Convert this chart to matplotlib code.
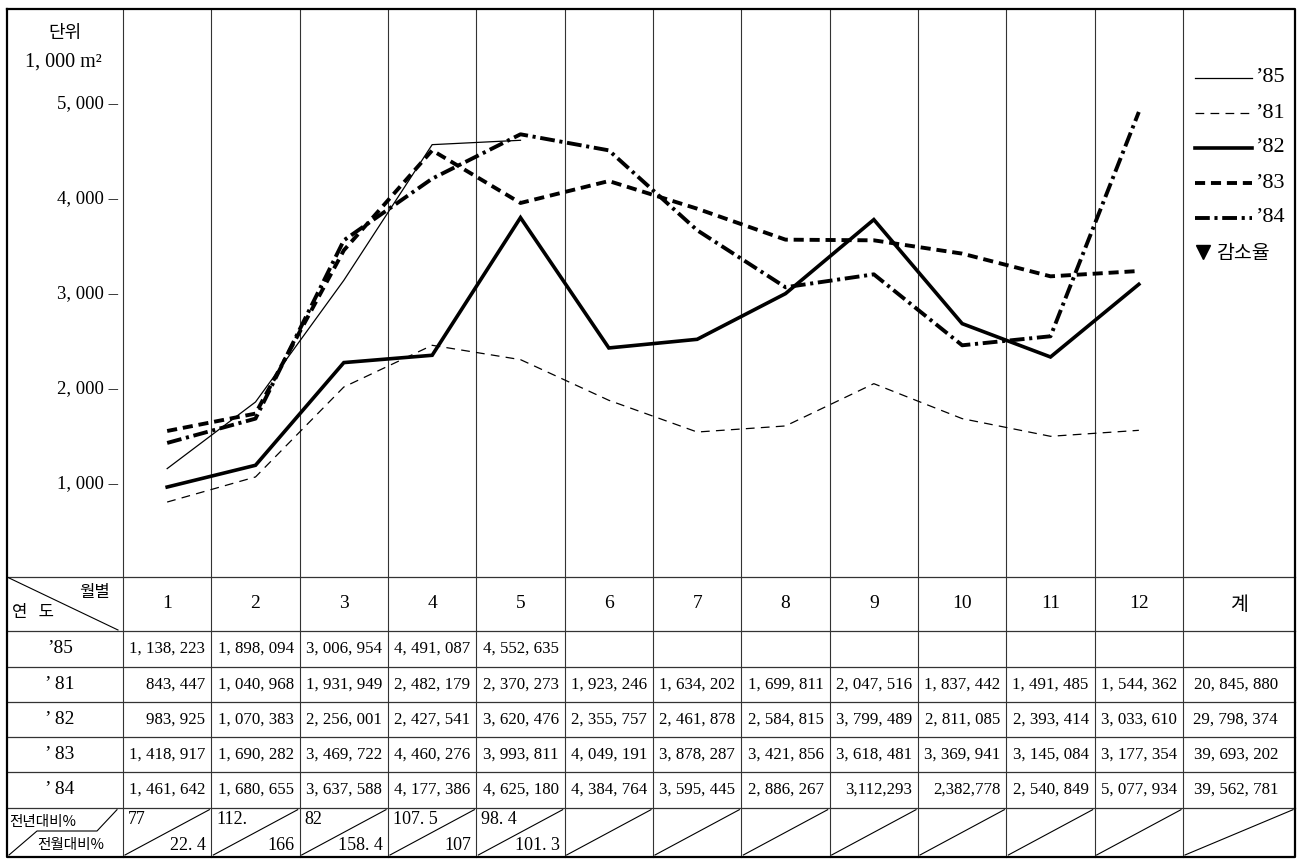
import numpy as np
import matplotlib
matplotlib.use('Agg')
import matplotlib.pyplot as plt
from matplotlib.lines import Line2D

# month values as drawn on the chart (unit 1,000 m2)
months = np.arange(1, 13)
s85 = [1141, 1842, 3123, 4551, 4597]
s81 = [789, 1053, 2000, 2439, 2288, 1860, 1526, 1590, 2035, 1667, 1481, 1544]
s82 = [947, 1176, 2257, 2334, 3783, 2411, 2502, 2983, 3762, 2667, 2316, 3081]
s83 = [1537, 1720, 3439, 4491, 3937, 4168, 3877, 3551, 3544, 3404, 3165, 3221]
s84 = [1411, 1667, 3544, 4193, 4660, 4491, 3650, 3050, 3186, 2439, 2534, 4895]

yticks = [1000, 2000, 3000, 4000, 5000]
ytick_labels = ['1, 000 –', '2, 000 –', '3, 000 –', '4, 000 –', '5, 000 –']

# table text
col_heads = ['1', '2', '3', '4', '5', '6', '7', '8', '9', '10', '11', '12', '계']
row_heads = ["’85", "’ 81", "’ 82", "’ 83", "’ 84"]
t85 = ['1, 138, 223', '1, 898, 094', '3, 006, 954', '4, 491, 087', '4, 552, 635']
t81 = ['843, 447', '1, 040, 968', '1, 931, 949', '2, 482, 179', '2, 370, 273', '1, 923, 246',
       '1, 634, 202', '1, 699, 811', '2, 047, 516', '1, 837, 442', '1, 491, 485', '1, 544, 362',
       '20, 845, 880']
t82 = ['983, 925', '1, 070, 383', '2, 256, 001', '2, 427, 541', '3, 620, 476', '2, 355, 757',
       '2, 461, 878', '2, 584, 815', '3, 799, 489', '2, 811, 085', '2, 393, 414', '3, 033, 610',
       '29, 798, 374']
t83 = ['1, 418, 917', '1, 690, 282', '3, 469, 722', '4, 460, 276', '3, 993, 811', '4, 049, 191',
       '3, 878, 287', '3, 421, 856', '3, 618, 481', '3, 369, 941', '3, 145, 084', '3, 177, 354',
       '39, 693, 202']
t84 = ['1, 461, 642', '1, 680, 655', '3, 637, 588', '4, 177, 386', '4, 625, 180', '4, 384, 764',
       '3, 595, 445', '2, 886, 267', '3,112,293', '2,382,778', '2, 540, 849', '5, 077, 934',
       '39, 562, 781']
pct_year = ['77', '112.', '82', '107. 5', '98. 4']
pct_month = ['22. 4', '166', '158. 4', '107', '101. 3']

W, H = 1300, 859
NUM = ['Liberation Serif', 'Noto Sans CJK KR']
KOR = ['Noto Sans CJK KR', 'Liberation Serif']

fig = plt.figure(figsize=(13, 8.59), dpi=100)

# background layer in pixel coordinates for frame + table
bg = fig.add_axes([0, 0, 1, 1])
bg.set_xlim(0, W)
bg.set_ylim(H, 0)
bg.axis('off')

top, base, bottom = 9, 577, 857
left, right = 7, 1295
x0, cw = 123, 1060 / 12
edges = [left] + [x0 + cw * i for i in range(13)] + [right]
rows_y = [base, 631, 666.7, 701.7, 736.7, 771.7, 807.7, bottom]

lc = '#333333'
for xe in edges[1:-1]:
    bg.plot([xe, xe], [top, bottom], color=lc, lw=0.8)
for ye in rows_y[:-1]:
    bg.plot([left, right], [ye, ye], color=lc, lw=0.9)
bg.plot([left, right, right, left, left], [top, top, bottom, bottom, top], color='black', lw=1.6)

# header row
bg.plot([left, 118], [base, 630], color='black', lw=0.8)
bg.text(110, 593, '월별', family=KOR, fontsize=12, ha='right', va='center')
bg.text(12, 613, '연   도', family=KOR, fontsize=12, ha='left', va='center')
for i, h in enumerate(col_heads):
    cx = (edges[i + 1] + edges[i + 2]) / 2
    bg.text(cx, (rows_y[0] + rows_y[1]) / 2, h, family=NUM if h != '계' else KOR,
            fontsize=14, ha='center', va='center')

# value rows
table_rows = [t85, t81, t82, t83, t84]
for r, (lab, vals) in enumerate(zip(row_heads, table_rows)):
    cy = (rows_y[r + 1] + rows_y[r + 2]) / 2
    bg.text(60, cy, lab, family=NUM, fontsize=14, ha='center', va='center')
    for i, v in enumerate(vals):
        pad = 17 if i == 12 else 6
        bg.text(edges[i + 2] - pad, cy, v, family=NUM, fontsize=12.2, ha='right', va='center')

# last row: ratios
ya, yb = rows_y[6], rows_y[7]
bg.text(9, 822, '전년대비%', family=KOR, fontsize=10.5, ha='left', va='center')
bg.text(104, 845, '전월대비%', family=KOR, fontsize=10.5, ha='right', va='center')
bg.plot([left + 2, 37, 97, 117], [bottom - 2, 831, 831, ya + 2], color='black', lw=0.8)
for i in range(13):
    xl, xr = edges[i + 1], edges[i + 2]
    bg.plot([xl + 2, xr - 2], [yb - 2, ya + 2], color='black', lw=0.8)
for i, (a, b) in enumerate(zip(pct_year, pct_month)):
    xl, xr = edges[i + 1], edges[i + 2]
    bg.text(xl + 5, 819, a, family=NUM, fontsize=13, ha='left', va='center')
    bg.text(xr - 5, 845, b, family=NUM, fontsize=13, ha='right', va='center')

# axis unit label
bg.text(65, 33, '단위', family=KOR, fontsize=13, ha='center', va='center')
bg.text(63, 62, '1, 000 m²', family=NUM, fontsize=14.5, ha='center', va='center')

# data axes over the month columns
ax = fig.add_axes([x0 / W, (H - base) / H, 1060 / W, (base - top) / H])
ax.patch.set_alpha(0)
ax.set_xlim(0.5, 12.5)
ax.set_ylim(0, (base - top) / 95 * 1000)
for sp in ax.spines.values():
    sp.set_visible(False)
ax.set_xticks([])
ax.set_yticks(yticks)
ax.set_yticklabels(ytick_labels, family=NUM, fontsize=13.5)
ax.tick_params(axis='y', length=0, pad=3.6)

styles = [
    ("’85", s85, dict(lw=0.9, ls='-')),
    ("’81", s81, dict(lw=0.9, ls=(0, (7, 5)))),
    ("’82", s82, dict(lw=2.6, ls='-')),
    ("’83", s83, dict(lw=2.8, ls=(0, (2.6, 1.5)))),
    ("’84", s84, dict(lw=2.8, ls=(0, (3.8, 1.2, 0.8, 1.2)))),
]
for lab, vals, st in styles:
    ax.plot(months[:len(vals)], vals, color='black', solid_joinstyle='miter', **st)

# legend drawn in the total column
for i, (lab, vals, st) in enumerate(styles):
    ly = 78 + 35 * i
    bg.add_line(Line2D([1195, 1252], [ly, ly], color='black', **st))
    bg.text(1255, ly, lab, family=NUM, fontsize=16, ha='left', va='center')
bg.plot([1203], [252], marker='v', color='black', markersize=10, ls='none')
bg.text(1216, 253, '감소율', family=KOR, fontsize=14, ha='left', va='center')

fig.savefig('out.png', dpi=100)
